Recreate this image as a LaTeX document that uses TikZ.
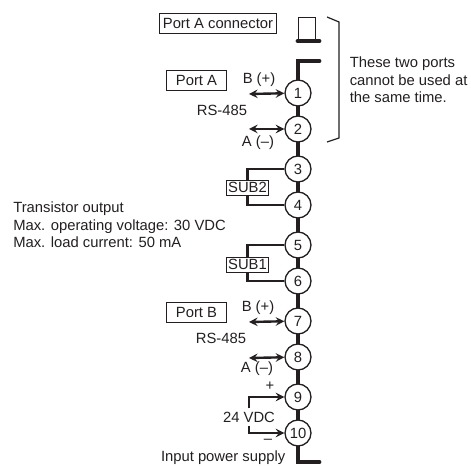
\documentclass[tikz,border=0pt]{standalone}
\usepackage{fontspec}
\setmainfont{Liberation Sans}
\usetikzlibrary{arrows}
\definecolor{ink}{HTML}{231F20}
\tikzset{
	label/.style={font=\fontsize{11.1}{13}\selectfont, text=ink, inner sep=0pt},
	portbox/.style={label, rectangle, draw=ink, line width=0.6pt, inner sep=0pt},
	terminal/.style={label, circle, draw=ink, fill=white, line width=1pt, minimum size=19.5pt},
	bar/.style={draw=ink, line width=3.7pt, line cap=round},
	wire/.style={draw=ink, line width=1.8pt},
	signal/.style={wire, >=stealth},
}

\begin{document}
\begin{tikzpicture}[x=0.75pt,y=-0.75pt]
	\useasboundingbox (0,0) rectangle (471,466);

	% connector and terminal strip
	\coordinate (top) at (319,61);
	\coordinate (corner) at (298,61);
	\coordinate (low) at (298,462);
	\coordinate (bottom) at (319,462);
	\draw[bar] (top) -- (corner) -- (low) -- (bottom);
	\node[rectangle, draw=ink, line width=0.6pt, minimum width=12.8pt, minimum height=18pt, inner sep=0pt] (plug) at (307,29) {};
	\coordinate (plugl) at (298,41);
	\coordinate (plugr) at (319,41);
	\draw[bar] (plugl) -- (plugr);

	\node[terminal] (t1) at (298,93) {1};
	\node[terminal] (t2) at (298,129) {2};
	\node[terminal] (t3) at (298,169) {3};
	\node[terminal] (t4) at (298,205) {4};
	\node[terminal] (t5) at (298,245) {5};
	\node[terminal] (t6) at (298,281) {6};
	\node[terminal] (t7) at (298,321) {7};
	\node[terminal] (t8) at (298,357) {8};
	\node[terminal] (t9) at (298,397) {9};
	\node[terminal] (t10) at (298,433) {10};

	% brace
	\coordinate (b1) at (327,17);
	\coordinate (b2) at (339,22);
	\coordinate (b3) at (339,138);
	\coordinate (b4) at (327,142);
	\draw[draw=ink, line width=0.9pt] (b1) -- (b2) -- (b3) -- (b4);
	\node[label, anchor=west, align=left] (note) at (349.5,80) {These two ports\\cannot be used at\\the same time.};

	% port A
	\node[portbox, minimum width=88pt, minimum height=15.5pt] (conn) at (218,23.5) {Port A connector};
	\node[portbox, minimum width=45.5pt, minimum height=15pt] (porta) at (196.5,80) {Port A};
	\node[label] (ba) at (259,80) {B (+)};
	\node[label] (rsa) at (222,110) {RS-485};
	\node[label] (aa) at (258,143) {A (--)};
	\coordinate (ea1) at (249,94);
	\coordinate (ea2) at (249,129);
	\draw[signal, <->] (ea1) -- (t1);
	\draw[signal, <->] (ea2) -- (t2);

	% transistor outputs
	\node[label, anchor=west, align=left] (trans) at (13,225) {Transistor output\\Max. operating voltage: 30 VDC\\Max. load current: 50 mA};
	\node[portbox, minimum width=32pt, minimum height=11.2pt] (sub2) at (247.5,187.5) {SUB2};
	\node[portbox, minimum width=32pt, minimum height=11.2pt] (sub1) at (247.5,264.5) {SUB1};
	\draw[wire] (t3) -| (sub2.north);
	\draw[wire] (t4) -| (sub2.south);
	\draw[wire] (t5) -| (sub1.north);
	\draw[wire] (t6) -| (sub1.south);

	% port B
	\node[portbox, minimum width=45.5pt, minimum height=14.5pt] (portb) at (196.5,312.5) {Port B};
	\node[label] (bb) at (258,308) {B (+)};
	\node[label] (rsb) at (221,338) {RS-485};
	\node[label] (ab) at (257,369) {A (--)};
	\coordinate (eb1) at (249,322);
	\coordinate (eb2) at (249,358);
	\draw[signal, <->] (eb1) -- (t7);
	\draw[signal, <->] (eb2) -- (t8);

	% power supply
	\node[label] (plus) at (270,386) {+};
	\node[label] (vdc) at (249,417) {24 VDC};
	\node[label] (minus) at (268,441) {--};
	\node[label, anchor=east] (power) at (285.5,458) {Input power supply};
	\draw[signal, ->] (vdc.north) ++(0,-3) |- (t9);
	\draw[signal, ->] (vdc.south) ++(0,3) |- (t10);
\end{tikzpicture}
\end{document}
